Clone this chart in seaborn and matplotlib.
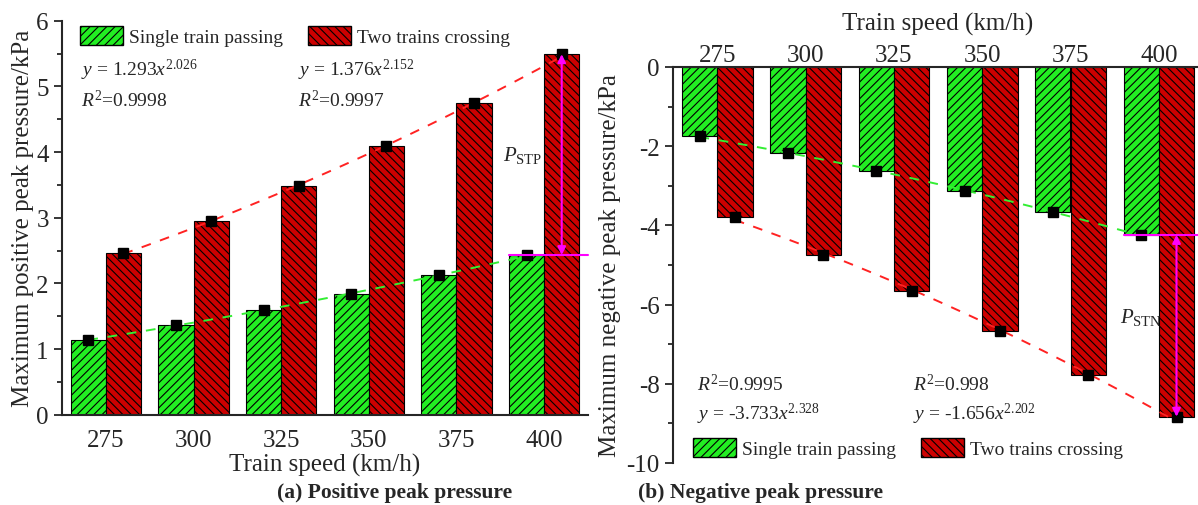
import numpy as np
import pandas as pd
import matplotlib
matplotlib.use("Agg")
import matplotlib.pyplot as plt
import seaborn as sns
from matplotlib.patches import Patch
from matplotlib.ticker import MultipleLocator

speeds = [275, 300, 325, 350, 375, 400]
pos_single = [1.14, 1.36, 1.59, 1.84, 2.12, 2.43]
pos_two = [2.46, 2.95, 3.48, 4.09, 4.74, 5.49]
neg_single = [-1.75, -2.18, -2.63, -3.12, -3.66, -4.24]
neg_two = [-3.80, -4.76, -5.65, -6.67, -7.79, -8.83]
series = ["Single train passing", "Two trains crossing"]
pos_fit_text = ["$y$ = 1.293$x^{2.026}$", "$y$ = 1.376$x^{2.152}$"]
pos_r2_text = ["$R^2$=0.9998", "$R^2$=0.9997"]
neg_fit_text = ["$y$ = -3.733$x^{2.328}$", "$y$ = -1.656$x^{2.202}$"]
neg_r2_text = ["$R^2$=0.9995", "$R^2$=0.998"]

sns.set_style("ticks")
plt.rcParams["font.family"] = ["Liberation Serif", "DejaVu Serif"]
plt.rcParams["mathtext.fontset"] = "custom"
plt.rcParams["mathtext.rm"] = "Liberation Serif"
plt.rcParams["mathtext.it"] = "Liberation Serif:italic"
plt.rcParams["mathtext.bf"] = "Liberation Serif:bold"
plt.rcParams["hatch.linewidth"] = 0.8
plt.rcParams["axes.unicode_minus"] = False

GREEN = "#22ee22"
RED = "#cc0000"
palette = {series[0]: GREEN, series[1]: RED}
hatches = {series[0]: "////", series[1]: "\\\\\\\\"}

fig = plt.figure(figsize=(11.98, 5.06), dpi=100)
axL = fig.add_axes([62 / 1198, 1 - 415.7 / 506, (588 - 62) / 1198, (415.7 - 21.7) / 506])
axR = fig.add_axes([673 / 1198, 1 - 464 / 506, (1203 - 673) / 1198, (464 - 68) / 506])


def draw(ax, single, two):
    df = pd.DataFrame({
        "speed": [str(s) for s in speeds] * 2,
        "value": list(single) + list(two),
        "series": [series[0]] * len(speeds) + [series[1]] * len(speeds),
    })
    sns.barplot(data=df, x="speed", y="value", hue="series", palette=palette,
                order=[str(s) for s in speeds], hue_order=series, width=0.8,
                edgecolor="black", linewidth=0.8, saturation=1, ax=ax, legend=False)
    for bars, s in zip(ax.containers, series):
        for p in bars:
            p.set_hatch(hatches[s])
    idx = np.arange(len(speeds))
    for vals, off in ((single, -0.2), (two, 0.2)):
        ax.errorbar(idx + off, vals, yerr=0.03, fmt="s", color="black", ms=6.5,
                    capsize=3, elinewidth=1, zorder=5)
    # power-law fit curves
    tt = np.linspace(0, len(speeds) - 1, 100)
    v = 275 + 25 * tt
    for vals, off, col in ((single, -0.2, "#33ee33"), (two, 0.2, "#ff2222")):
        sgn = np.sign(vals[0])
        b, a = np.polyfit(np.log(speeds), np.log(np.abs(vals)), 1)
        yy = sgn * np.exp(a) * v ** b
        ax.plot(tt + off, yy, ls=(0, (5, 5)), color=col, lw=1.4, zorder=4)
    # magenta difference indicator
    ax.plot([len(speeds) - 1 - 0.4, len(speeds) - 0.5], [single[-1], single[-1]],
            color="magenta", lw=1.5, zorder=6, clip_on=False)
    ax.annotate("", xy=(len(speeds) - 1 + 0.2, two[-1]),
                xytext=(len(speeds) - 1 + 0.2, single[-1]),
                arrowprops=dict(arrowstyle="<|-|>", color="magenta", lw=1.5,
                                mutation_scale=12, shrinkA=0, shrinkB=0), zorder=6)
    ax.set_xlim(-0.5, len(speeds) - 0.5)
    for sp in ax.spines.values():
        sp.set_linewidth(1.5)
    ax.tick_params(axis="x", length=0, labelsize=18, pad=10)
    ax.tick_params(axis="y", which="major", length=6, width=1.3, labelsize=18, direction="out")
    ax.tick_params(axis="y", which="minor", length=3.5, width=1.3, direction="out")


def make_legend(ax, loc, anchor):
    return ax.legend(handles=[Patch(facecolor=palette[s], edgecolor="black", hatch=hatches[s], label=s)
                              for s in series],
                     loc=loc, bbox_to_anchor=anchor, ncol=2, frameon=False,
                     fontsize=14, handlelength=2.2, handleheight=1.15, columnspacing=1.3,
                     handletextpad=0.3, borderaxespad=0, borderpad=0)


draw(axL, pos_single, pos_two)
axL.set_ylim(0, 6)
axL.yaxis.set_major_locator(MultipleLocator(1))
axL.yaxis.set_minor_locator(MultipleLocator(0.5))
axL.spines["top"].set_visible(False)
axL.spines["right"].set_visible(False)
axL.set_xlabel("Train speed (km/h)", fontsize=18, labelpad=2)
axL.set_ylabel("Maximum positive peak pressure/kPa", fontsize=18, labelpad=2)
fig.text(503 / 1198, 1 - 155 / 506, "$P_{\\mathrm{STP}}$", fontsize=15, va="center")
for i, (t1, t2) in enumerate(zip(pos_fit_text, pos_r2_text)):
    x0 = [81, 298][i]
    fig.text(x0 / 1198, 1 - 70 / 506, t1, fontsize=14, va="center")
    fig.text(x0 / 1198, 1 - 100 / 506, t2, fontsize=14, va="center")
make_legend(axL, "upper left", (18 / 526, 1 - 5 / 394))

draw(axR, neg_single, neg_two)
axR.set_ylim(-10, 0)
axR.yaxis.set_major_locator(MultipleLocator(2))
axR.yaxis.set_minor_locator(MultipleLocator(1))
axR.spines["bottom"].set_visible(False)
axR.spines["right"].set_visible(False)
axR.xaxis.tick_top()
axR.xaxis.set_label_position("top")
axR.tick_params(axis="x", pad=1)
axR.set_xlabel("Train speed (km/h)", fontsize=18)
axR.xaxis.set_label_coords(0.5, 1 + 32 / 396)
axR.xaxis.label.set_va("bottom")
axR.set_ylabel("Maximum negative peak pressure/kPa", fontsize=18, labelpad=4)
fig.text(1120 / 1198, 1 - 318 / 506, "$P_{\\mathrm{STN}}$", fontsize=15, va="center")
for i, (t1, t2) in enumerate(zip(neg_fit_text, neg_r2_text)):
    x0 = [697, 913][i]
    fig.text(x0 / 1198, 1 - 385 / 506, t2, fontsize=14, va="center")
    fig.text(x0 / 1198, 1 - 414 / 506, t1, fontsize=14, va="center")
make_legend(axR, "lower left", (20 / 530, 5 / 396))

fig.text(277 / 1198, 1 - 493 / 506, "(a) Positive peak pressure", fontsize=15.5,
         fontweight="bold", va="center")
fig.text(638 / 1198, 1 - 493 / 506, "(b) Negative peak pressure", fontsize=15.5,
         fontweight="bold", va="center")

fig.savefig("out.png", dpi=100)
